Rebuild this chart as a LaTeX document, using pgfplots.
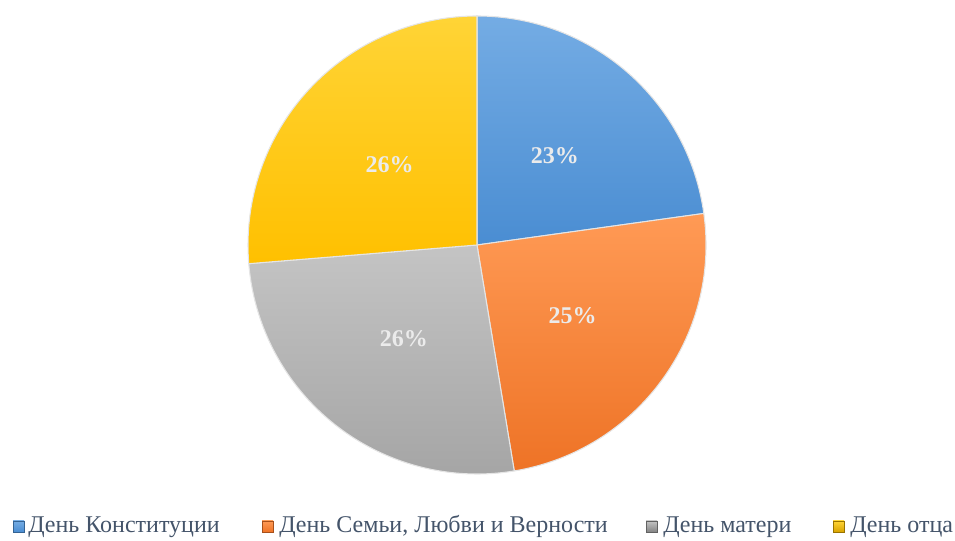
\documentclass[border=0pt]{standalone}
\usepackage{fontspec}
\setmainfont{Liberation Serif}
\usepackage{pgfplots}
\usepackage{pgfplotstable}
\pgfplotsset{compat=1.18}
\usetikzlibrary{calc}
\definecolor{bluetop}{HTML}{74ACE4}
\definecolor{bluebot}{HTML}{4A8DD2}
\definecolor{orgtop}{HTML}{FF9A55}
\definecolor{orgbot}{HTML}{EE7326}
\definecolor{grytop}{HTML}{C4C4C4}
\definecolor{grybot}{HTML}{A4A4A4}
\definecolor{yeltop}{HTML}{FFD436}
\definecolor{yelbot}{HTML}{FFC000}
\definecolor{legtext}{HTML}{44546A}
\definecolor{lab}{HTML}{EBEBEB}

\pgfplotstableread{
idx value ctop cbot
0 22.8 bluetop bluebot
1 24.6 orgtop orgbot
2 26.3 grytop grybot
3 26.3 yeltop yelbot
}\piedata

\begin{document}
\begin{tikzpicture}
\begin{axis}[hide axis, scale only axis, width=716.25pt, height=405.75pt,
  xmin=0, xmax=955, ymin=0, ymax=541, enlargelimits=false, clip=false]
\addplot[draw=none, forget plot] coordinates {(0,0) (955,541)};
\path (axis cs:0,0) rectangle (axis cs:955,541);
\gdef\cum{0}
\foreach \i in {0,...,3}{
  \pgfplotstablegetelem{\i}{value}\of\piedata \let\v\pgfplotsretval
  \pgfplotstablegetelem{\i}{ctop}\of\piedata \let\ct\pgfplotsretval
  \pgfplotstablegetelem{\i}{cbot}\of\piedata \let\cb\pgfplotsretval
  \pgfmathsetmacro\as{90-3.6*\cum}
  \pgfmathsetmacro\ae{90-3.6*(\cum+\v)}
  \pgfmathsetmacro\am{(\as+\ae)/2}
  \pgfmathtruncatemacro\lbl{round(\v)}
  \edef\temp{\noexpand\shade[top color=\ct, bottom color=\cb, draw=white!90!black, line width=0.8pt]
     (axis cs:477,296) -- ++(\as:171.75pt) arc[start angle=\as, end angle=\ae, radius=171.75pt] -- cycle;
     \noexpand\node[text=lab, font=\noexpand\bfseries\noexpand\fontsize{18}{21}\noexpand\selectfont]
     at ($(axis cs:477,296)+(\am:89pt)$) {\lbl\noexpand\%};}
  \temp
  \pgfmathsetmacro\newcum{\cum+\v}
  \global\let\cum\newcum
}
% legend
\shade[top color=bluetop, bottom color=bluebot, draw=bluebot!70!black, line width=0.3pt] (axis cs:13,9) rectangle (axis cs:24,20);
\node[anchor=base west, inner sep=0pt, text=legtext, font=\fontsize{18}{21}\selectfont] at (axis cs:28,8) {День Конституции};
\shade[top color=orgtop, bottom color=orgbot, draw=orgbot!70!black, line width=0.3pt] (axis cs:262,9) rectangle (axis cs:273,20);
\node[anchor=base west, inner sep=0pt, text=legtext, font=\fontsize{18}{21}\selectfont] at (axis cs:279,8) {День Семьи, Любви и Верности};
\shade[top color=grytop, bottom color=grybot!80!black, draw=grybot!60!black, line width=0.3pt] (axis cs:646,9) rectangle (axis cs:657,20);
\node[anchor=base west, inner sep=0pt, text=legtext, font=\fontsize{18}{21}\selectfont] at (axis cs:663,8) {День матери};
\shade[top color=yeltop, bottom color=yelbot!85!black, draw=yelbot!60!black, line width=0.3pt] (axis cs:833,9) rectangle (axis cs:844,20);
\node[anchor=base west, inner sep=0pt, text=legtext, font=\fontsize{18}{21}\selectfont] at (axis cs:850,8) {День отца};
\end{axis}
\end{tikzpicture}
\end{document}
